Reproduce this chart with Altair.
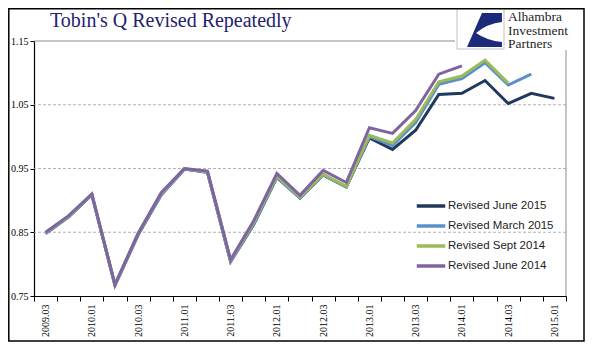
import altair as alt
import pandas as pd
import numpy as np

quarters = ["2009.03", "2009.04", "2010.01", "2010.02", "2010.03", "2010.04",
            "2011.01", "2011.02", "2011.03", "2011.04", "2012.01", "2012.02",
            "2012.03", "2012.04", "2013.01", "2013.02", "2013.03", "2013.04",
            "2014.01", "2014.02", "2014.03", "2014.04", "2015.01"]

revised_june_2015 = [0.848, 0.874, 0.909, 0.767, 0.846, 0.909, 0.949, 0.944, 0.804, 0.862,
                     0.936, 0.904, 0.940, 0.921, 0.998, 0.980, 1.010, 1.066, 1.068, 1.088,
                     1.052, 1.068, 1.060]
revised_march_2015 = [0.848, 0.874, 0.909, 0.767, 0.846, 0.909, 0.949, 0.944, 0.804, 0.863,
                      0.936, 0.904, 0.940, 0.921, 1.000, 0.986, 1.022, 1.082, 1.091, 1.116,
                      1.081, 1.098]
revised_sept_2014 = [0.849, 0.875, 0.910, 0.768, 0.848, 0.911, 0.950, 0.945, 0.806, 0.865,
                     0.938, 0.905, 0.941, 0.922, 1.002, 0.990, 1.027, 1.086, 1.095, 1.120,
                     1.084]
revised_june_2014 = [0.850, 0.876, 0.910, 0.768, 0.848, 0.912, 0.950, 0.946, 0.807, 0.868,
                     0.942, 0.908, 0.947, 0.928, 1.014, 1.005, 1.041, 1.098, 1.111]

series_names = ["Revised June 2015", "Revised March 2015", "Revised Sept 2014", "Revised June 2014"]
series_values = [revised_june_2015, revised_march_2015, revised_sept_2014, revised_june_2014]
series_colors = ["#1F3A5C", "#5B8FCB", "#9BBB59", "#8064A2"]

y_ticks = [0.75, 0.85, 0.95, 1.05, 1.15]
grid_dashed = [0.85, 0.95, 1.05]
grid_top = [1.15]

title_text = "Tobin's Q Revised Repeatedly"
logo_lines = ["Alhambra", "Investment", "Partners"]

rows = []
for name, vals in zip(series_names, series_values):
    for q, v in zip(quarters, vals):
        rows.append({"quarter": q, "series": name, "value": v})
df = pd.DataFrame(rows)

W, H = 532, 255

x_enc = alt.X("quarter:O", sort=quarters,
              scale=alt.Scale(type="band", paddingInner=0, paddingOuter=0),
              axis=alt.Axis(title=None, tickBand="extent", labelAngle=270,
                            labelExpr="(substring(datum.value,5,7)=='02' || substring(datum.value,5,7)=='04') ? '' : datum.value",
                            labelOverlap=False, tickSize=5, labelPadding=3,
                            domainColor="black", tickColor="black", domainWidth=1.2,
                            labelFont="Liberation Serif", labelFontSize=10, labelColor="black",
                            grid=False))
y_scale = alt.Scale(domain=[0.75, 1.15], nice=False, zero=False)
y_enc = alt.Y("value:Q", scale=y_scale,
              axis=alt.Axis(title=None, values=y_ticks, format=".2f", tickSize=4, labelPadding=2,
                            domainColor="black", tickColor="black", domainWidth=1.2,
                            labelFont="Liberation Serif", labelFontSize=10, labelColor="black",
                            grid=False))
color_enc = alt.Color("series:N", sort=series_names,
                      scale=alt.Scale(domain=series_names, range=series_colors),
                      legend=alt.Legend(orient="none", legendX=381, legendY=157, title=None,
                                        symbolType="stroke", symbolSize=810, symbolStrokeWidth=3.5,
                                        labelFont="Liberation Sans", labelFontSize=11.5,
                                        labelColor="#222", labelOffset=1, clipHeight=16,
                                        rowPadding=4, padding=0))

one = pd.DataFrame({"a": [0]})

grid1 = alt.Chart(pd.DataFrame({"g": grid_dashed})).mark_rule(
    color="#A0A0A0", strokeWidth=0.8, strokeDash=[3, 2]).encode(y=alt.Y("g:Q", scale=y_scale))
grid2 = alt.Chart(pd.DataFrame({"g": grid_top})).mark_rule(
    color="#8C8C8C", strokeWidth=1).encode(y=alt.Y("g:Q", scale=y_scale))
right_border = alt.Chart(one).mark_rule(color="#8C8C8C", strokeWidth=1).encode(
    x=alt.value(W), y=alt.value(0), y2=alt.value(H))

lines = []
for name in series_names:
    lines.append(alt.Chart(df).transform_filter(alt.datum.series == name).mark_line(
        strokeWidth=3).encode(x=x_enc, y=y_enc, color=color_enc))

title = alt.Chart(one).mark_text(
    text=title_text, font="Liberation Serif", fontSize=20, color="#1F2170",
    align="left", baseline="alphabetic").encode(x=alt.value(16), y=alt.value(-14))

logo_cover = alt.Chart(one).mark_rect(fill="white").encode(
    x=alt.value(421), x2=alt.value(551), y=alt.value(-34), y2=alt.value(9))
logo_box = alt.Chart(one).mark_rect(fill="white", stroke="#B0B0B0", strokeWidth=0.8).encode(
    x=alt.value(423), x2=alt.value(470), y=alt.value(-33), y2=alt.value(8))
logo_path = ("M -0.14 -0.94 L 0.97 -0.94 L 0.97 -0.44 Q 0.15 -0.35 -0.47 0.17 "
             "Q 0.15 0.6 0.97 0.67 L 0.97 0.94 L -0.97 0.94 Z")
logo_mark = alt.Chart(one).mark_point(
    shape=logo_path, filled=True, color="#1B2A7A", size=1296, opacity=1, strokeWidth=0).encode(
    x=alt.value(450.5), y=alt.value(-11))
logo_texts = []
for i, t in enumerate(logo_lines):
    logo_texts.append(alt.Chart(one).mark_text(
        text=t, font="Liberation Serif", fontSize=13.5, color="#1E1E1E",
        align="left", baseline="alphabetic").encode(x=alt.value(474), y=alt.value(-20 + 13.5 * i)))

frame = alt.Chart(one).mark_rect(fillOpacity=0, stroke="black", strokeWidth=1.5).encode(
    x=alt.value(-25.2), x2=alt.value(550), y=alt.value(-32.2), y2=alt.value(300))

chart = alt.layer(
    grid1, grid2, right_border, *lines, title, logo_cover, logo_box, logo_mark, *logo_texts, frame
).properties(
    width=W, height=H,
    autosize=alt.AutoSizeParams(type="none"),
    padding={"left": 26, "top": 33, "right": 21, "bottom": 50},
    background="white",
).configure_view(strokeWidth=0)

chart.save("out.html", embed_options={"renderer": "svg", "actions": False})
